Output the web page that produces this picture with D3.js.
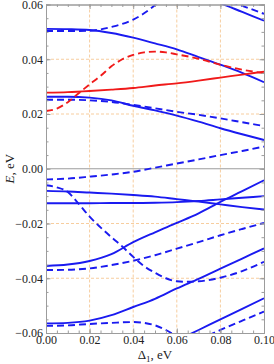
<!DOCTYPE html>
<html>
<head>
<meta charset="utf-8">
<script src="https://cdn.jsdelivr.net/npm/d3@7/dist/d3.min.js"></script>
<style>
  html, body { margin: 0; padding: 0; background: #ffffff; }
  svg { display: block; }
  text { font-family: "Liberation Serif", "DejaVu Serif", serif; fill: #222; }
</style>
</head>
<body>
<div id="chart"></div>
<script>
// ---- data ----
const xTicks = [0.00, 0.02, 0.04, 0.06, 0.08, 0.10];
const yTicks = [0.06, 0.04, 0.02, 0.00, -0.02, -0.04, -0.06];
const xTickLabels = ["0.00", "0.02", "0.04", "0.06", "0.08", "0.10"];
const yTickLabels = ["0.06", "0.04", "0.02", "0.00", "\u22120.02", "\u22120.04", "\u22120.06"];
const xGridLines = [0.02, 0.04, 0.06, 0.08];
const yGridLines = [0.04, 0.02, -0.02, -0.04];

const delta = [0, 0.01, 0.02, 0.03, 0.04, 0.05, 0.06, 0.07, 0.08, 0.09, 0.10];

// blue solid, top (0.051)
const bandTopSolid = [0.0511, 0.0510, 0.0507, 0.0496, 0.0479, 0.0458, 0.0436, 0.0408, 0.0380, 0.0350, 0.0316];
// blue dashed, top (0.0503), leaves upward
const bandTopDashedX = [0, 0.01, 0.02, 0.025, 0.03, 0.035, 0.04, 0.045, 0.05, 0.055];
const bandTopDashed  = [0.0503, 0.0503, 0.0504, 0.0509, 0.0518, 0.0529, 0.0545, 0.0568, 0.0598, 0.0635];
// blue solid entering at top right
const rightTopSolidX = [0.075, 0.08, 0.09, 0.10];
const rightTopSolid  = [0.0622, 0.0605, 0.0573, 0.0541];
// blue dashed entering at top right
const rightTopDashedX = [0.08, 0.085, 0.09, 0.10];
const rightTopDashed  = [0.0623, 0.0608, 0.0595, 0.0566];
// red solid
const redSolid = [0.0278, 0.0280, 0.0284, 0.0289, 0.0295, 0.0304, 0.0312, 0.0322, 0.0333, 0.0344, 0.0355];
// red dashed
const redDashedX = [0, 0.005, 0.01, 0.015, 0.02, 0.025, 0.03, 0.035, 0.04, 0.045, 0.05, 0.055, 0.06, 0.07, 0.08, 0.09, 0.10];
const redDashed  = [0.0211, 0.0220, 0.0243, 0.0276, 0.0308, 0.0339, 0.0374, 0.0400, 0.0416, 0.0425, 0.0428, 0.0425, 0.0418, 0.0402, 0.0380, 0.0362, 0.0349];
// blue solid around 0.026
const midSolid  = [0.0263, 0.0263, 0.0260, 0.0250, 0.0230, 0.0213, 0.0194, 0.0172, 0.0148, 0.0126, 0.0105];
// blue dashed around 0.025
const midDashed = [0.0252, 0.0252, 0.0250, 0.0244, 0.0233, 0.0221, 0.0208, 0.0197, 0.0184, 0.0170, 0.0156];
// blue dashed near zero
const zeroDashed = [-0.0039, -0.0036, -0.0029, -0.0021, -0.0011, 0.0004, 0.0019, 0.0034, 0.0050, 0.0065, 0.0081];
// two nearly flat blue solids below zero
const flatSolidA = [-0.0081, -0.0083, -0.0087, -0.0091, -0.0096, -0.0102, -0.0111, -0.0120, -0.0130, -0.0140, -0.0149];
const flatSolidB = [-0.0126, -0.0126, -0.0126, -0.0125, -0.0125, -0.0124, -0.0122, -0.0118, -0.0112, -0.0106, -0.0100];
// blue solid rising from -0.0355
const riseSolid = [-0.0355, -0.0350, -0.0337, -0.0312, -0.0268, -0.0232, -0.0198, -0.0163, -0.0121, -0.0082, -0.0042];
// blue dashed falling steeply from -0.006
const fallDashedX = [0, 0.005, 0.01, 0.015, 0.02, 0.025, 0.03, 0.035, 0.04, 0.045, 0.05, 0.055, 0.06, 0.065, 0.07, 0.08, 0.09, 0.10];
const fallDashed  = [-0.0060, -0.0068, -0.0085, -0.0128, -0.0175, -0.0214, -0.0250, -0.0284, -0.0322, -0.0356, -0.0380, -0.0400, -0.0411, -0.0413, -0.0411, -0.0398, -0.0374, -0.0340];
// blue dashed rising from -0.037
const riseDashed = [-0.0370, -0.0369, -0.0364, -0.0352, -0.0336, -0.0316, -0.0292, -0.0268, -0.0243, -0.0220, -0.0198];
// blue solid from -0.0565
const lowSolid = [-0.0565, -0.0563, -0.0555, -0.0535, -0.0505, -0.0475, -0.0437, -0.0402, -0.0365, -0.0328, -0.0291];
// blue dashed from -0.0574
const lowDashedX = [0, 0.01, 0.02, 0.03, 0.04, 0.045, 0.05, 0.055, 0.06];
const lowDashed  = [-0.0574, -0.0572, -0.0567, -0.0563, -0.0560, -0.0563, -0.0572, -0.0589, -0.0612];
// blue solid entering at bottom right
const bottomSolidX = [0.06, 0.07, 0.08, 0.09, 0.10];
const bottomSolid  = [-0.0627, -0.0589, -0.0550, -0.0512, -0.0473];
// blue dashed entering at bottom right
const bottomDashedX = [0.07, 0.08, 0.09, 0.10];
const bottomDashed  = [-0.0625, -0.0589, -0.0555, -0.0522];

// series table built from the arrays above
const series = [
  {x: delta, y: bandTopSolid, color: "blue", dashed: false},
  {x: bandTopDashedX, y: bandTopDashed, color: "blue", dashed: true},
  {x: rightTopSolidX, y: rightTopSolid, color: "blue", dashed: false},
  {x: rightTopDashedX, y: rightTopDashed, color: "blue", dashed: true},
  {x: delta, y: midSolid, color: "blue", dashed: false},
  {x: delta, y: midDashed, color: "blue", dashed: true},
  {x: delta, y: zeroDashed, color: "blue", dashed: true},
  {x: delta, y: flatSolidA, color: "blue", dashed: false},
  {x: delta, y: flatSolidB, color: "blue", dashed: false},
  {x: delta, y: riseSolid, color: "blue", dashed: false},
  {x: fallDashedX, y: fallDashed, color: "blue", dashed: true},
  {x: delta, y: riseDashed, color: "blue", dashed: true},
  {x: delta, y: lowSolid, color: "blue", dashed: false},
  {x: lowDashedX, y: lowDashed, color: "blue", dashed: true},
  {x: bottomSolidX, y: bottomSolid, color: "blue", dashed: false},
  {x: bottomDashedX, y: bottomDashed, color: "blue", dashed: true},
  {x: delta, y: redSolid, color: "red", dashed: false},
  {x: redDashedX, y: redDashed, color: "red", dashed: true}
];

// ---- layout ----
const W = 274, H = 364;
const margin = {left: 46, right: 10, top: 4.5, bottom: 31};
const iw = W - margin.left - margin.right;
const ih = H - margin.top - margin.bottom;
const colors = {blue: "#1a1af0", red: "#f01a1a"};

const svg = d3.select("#chart").append("svg").attr("width", W).attr("height", H);
const g = svg.append("g").attr("transform", `translate(${margin.left},${margin.top})`);

const x = d3.scaleLinear().domain([0, 0.1]).range([0, iw]);
const y = d3.scaleLinear().domain([-0.06, 0.06]).range([ih, 0]);

// grid
const gridColor = "#f7cd9e";
g.append("g").selectAll("line").data(xGridLines).join("line")
  .attr("x1", d => x(d)).attr("x2", d => x(d)).attr("y1", 0).attr("y2", ih)
  .attr("stroke", gridColor).attr("stroke-width", 1).attr("stroke-dasharray", "3,2");
g.append("g").selectAll("line").data(yGridLines).join("line")
  .attr("y1", d => y(d)).attr("y2", d => y(d)).attr("x1", 0).attr("x2", iw)
  .attr("stroke", gridColor).attr("stroke-width", 1).attr("stroke-dasharray", "3,2");

// zero line (panel boundary)
const frameColor = "#9c9c9c";
g.append("line").attr("x1", 0).attr("x2", iw).attr("y1", y(0)).attr("y2", y(0))
  .attr("stroke", frameColor).attr("stroke-width", 1);

// curves
svg.append("defs").append("clipPath").attr("id", "clip")
  .append("rect").attr("x", 0).attr("y", 0).attr("width", iw).attr("height", ih);
const line = d3.line().x(d => x(d[0])).y(d => y(d[1])).curve(d3.curveMonotoneX);
const curves = g.append("g").attr("clip-path", "url(#clip)");
series.forEach(s => {
  curves.append("path")
    .datum(s.x.map((v, i) => [v, s.y[i]]))
    .attr("d", line)
    .attr("fill", "none")
    .attr("stroke", colors[s.color])
    .attr("stroke-width", 1.9)
    .attr("stroke-dasharray", s.dashed ? "7,4" : null);
});

// axes (ticks inward, all four sides)
const minorX = d3.range(0, 0.1001, 0.005);
const minorY = d3.range(-0.06, 0.0601, 0.005);
function styleAxis(sel) {
  sel.select(".domain").attr("stroke", frameColor);
  sel.selectAll(".tick line").attr("stroke", frameColor);
  sel.selectAll(".tick text").attr("font-size", 12).attr("fill", "#222");
}
// minor tick axes (no labels)
g.append("g").attr("transform", `translate(0,${ih})`)
  .call(d3.axisBottom(x).tickValues(minorX).tickSize(-2.5).tickFormat(""))
  .call(styleAxis);
g.append("g")
  .call(d3.axisTop(x).tickValues(minorX).tickSize(-2.5).tickFormat(""))
  .call(styleAxis);
g.append("g")
  .call(d3.axisLeft(y).tickValues(minorY).tickSize(-2.5).tickFormat(""))
  .call(styleAxis);
g.append("g").attr("transform", `translate(${iw},0)`)
  .call(d3.axisRight(y).tickValues(minorY).tickSize(-2.5).tickFormat(""))
  .call(styleAxis);
// major tick axes
g.append("g").attr("transform", `translate(0,${ih})`)
  .call(d3.axisBottom(x).tickValues(xTicks).tickSize(-4.5).tickPadding(2)
        .tickFormat((d, i) => xTickLabels[i]))
  .call(styleAxis);
g.append("g")
  .call(d3.axisTop(x).tickValues(xTicks).tickSize(-4.5).tickFormat(""))
  .call(styleAxis);
g.append("g")
  .call(d3.axisLeft(y).tickValues(yTicks).tickSize(-4.5).tickPadding(3)
        .tickFormat((d, i) => yTickLabels[i]))
  .call(styleAxis);
g.append("g").attr("transform", `translate(${iw},0)`)
  .call(d3.axisRight(y).tickValues(yTicks).tickSize(-4.5).tickFormat(""))
  .call(styleAxis);

// axis titles
const xt = svg.append("text").attr("x", margin.left + iw / 2).attr("y", 359)
  .attr("text-anchor", "middle").attr("font-size", 13);
xt.append("tspan").text("\u0394");
xt.append("tspan").attr("font-size", 9).attr("dy", 3).text("1");
xt.append("tspan").attr("dy", -3).text(", eV");

const yt = svg.append("text")
  .attr("transform", `translate(14,${margin.top + ih / 2}) rotate(-90)`)
  .attr("text-anchor", "middle").attr("font-size", 13);
yt.append("tspan").attr("font-style", "italic").text("E");
yt.append("tspan").text(", eV");
</script>
</body>
</html>
